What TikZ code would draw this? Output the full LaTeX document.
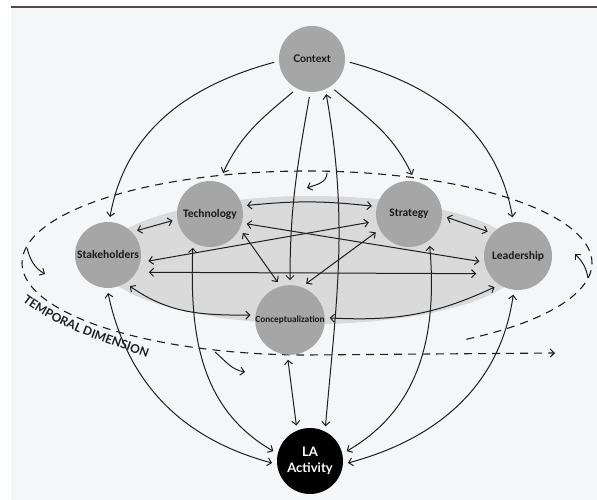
\documentclass[tikz,border=0pt]{standalone}
\usepackage{fontspec}
\setmainfont{Lato}
\newfontfamily\carlito{Carlito}
\newfontfamily\lato{Lato}
\usetikzlibrary{arrows.meta,decorations.text}
\definecolor{bgc}{RGB}{245,246,248}
\definecolor{nodegray}{RGB}{166,166,166}
\definecolor{shadec}{RGB}{218,218,218}
\definecolor{ink}{RGB}{30,30,30}
\definecolor{rulec}{RGB}{88,72,72}
\begin{document}
\begin{tikzpicture}[x=1pt,y=-1pt,
  >={Straight Barb[length=4pt,width=8pt]},
  ball/.style={circle, fill=nodegray, minimum size=66pt, inner sep=0pt, outer sep=5pt, text=black!90},
  cfont/.style={font=\carlito\bfseries\fontsize{11.5}{13}\selectfont},
  conn/.style={draw=ink, line width=1pt},
  temporal/.style={draw=ink, line width=1.1pt, dash pattern=on 8pt off 6pt}
]
\useasboundingbox (0,0) rectangle (597,500);
\fill[white] (0,0) rectangle (597,500);
\fill[bgc] (11,8) rectangle (597,500);
\draw[rulec, line width=1.2pt] (11,7) -- (597,7);

% shaded plane
\fill[shadec] (312,260) ellipse [x radius=212pt, y radius=64pt];

% temporal spiral
\draw[temporal,->] plot[domain=0:326, samples=160, smooth] ({307+285*cos(56-\x)},{263+92*sin(56-\x)}) -- (555,353);

% small rotation arrows
\coordinate (r1s) at (327,173); \coordinate (r1e) at (307,188);
\coordinate (r2s) at (27,248);  \coordinate (r2e) at (45,274);
\coordinate (r3s) at (215,352); \coordinate (r3e) at (245,372);
\coordinate (r4s) at (588,278); \coordinate (r4e) at (575,254);
\draw[conn,->] (r1s) to[out=-90,in=20] (r1e);
\draw[conn,->] (r2s) to[out=-75,in=150] (r2e);
\draw[conn,->] (r3s) to[out=-40,in=170] (r3e);
\draw[conn,->] (r4s) to[out=100,in=-45] (r4e);

% temporal label
\path[decorate, decoration={text along path, text color=ink,
  text={|\lato\bfseries\fontsize{12}{14}\selectfont|TEMPORAL DIMENSION}}]
  (22.5,301.5) .. controls (58.5,328.5) and (103.7,341.7) .. (146,357);

% nodes
\node[ball, font=\lato\bfseries\fontsize{10.5}{12}\selectfont] (C) at (312,59) {Context};
\node[ball, cfont] (T) at (210,214) {Technology};
\node[ball, cfont] (G) at (409,214) {Strategy};
\node[ball, cfont] (S) at (108,255) {Stakeholders};
\node[ball, cfont, minimum size=68pt] (L) at (518,256) {Leadership};
\node[ball, minimum size=68pt, font=\carlito\bfseries\fontsize{9.3}{11}\selectfont] (K) at (290,320) {Conceptualization};
\node[ball, fill=black, text=white, align=center, font=\lato\bfseries\fontsize{13}{16}\selectfont] (A) at (310,461) {LA\\Activity};

\coordinate (techtop) at (223,173);
\coordinate (strattop) at (412,175);

% from Context
\draw[conn,->] (C.185) to[out=195,in=80] (S.87);
\draw[conn,->] (C.-5) to[out=-15,in=100] (L.98);
\draw[conn,->] (C.240) to[out=220,in=65] (techtop);
\draw[conn,->] (C.-54) to[out=-40,in=115] (strattop);
\draw[conn,->] (C.-94) to[out=-100,in=90] (K.90);
\draw[conn,<->] (C.-68) to[out=-80,in=85] (A.66);

% Stakeholders
\draw[conn,<->] (S.40) -- (T.190);
\draw[conn,<->,shorten <=3pt,shorten >=3pt] (S.-10) -- (G.192);
\draw[conn,<->,shorten <=7pt,shorten >=7pt] (S.-27) -- (L.207);
\draw[conn,<->] (S.-55) to[out=-35,in=180] (K.173);
\draw[conn,<->] (S.-90) to[out=-78,in=165] (A.183);

% Technology
\draw[conn,<->] (T.13) to[bend left=6] (G.168);
\draw[conn,<->] (T.-15) -- (L.188);
\draw[conn,<->] (T.-30) -- (K.108);
\draw[conn,<->] (T.243) to[out=-92,in=150] (A.165);

% Strategy
\draw[conn,<->] (G.209) -- (K.66);
\draw[conn,<->] (G.-5) -- (L.141);
\draw[conn,<->] (G.-57) to[out=-85,in=30] (A.15);

% Leadership / Conceptualization
\draw[conn,<->] (L.-97) to[out=-98,in=15] (A.-3);
\draw[conn,<->] (K.3) to[out=-3,in=205] (L.233);
\draw[conn,<->] (K.-93) -- (A.111);
\end{tikzpicture}
\end{document}
